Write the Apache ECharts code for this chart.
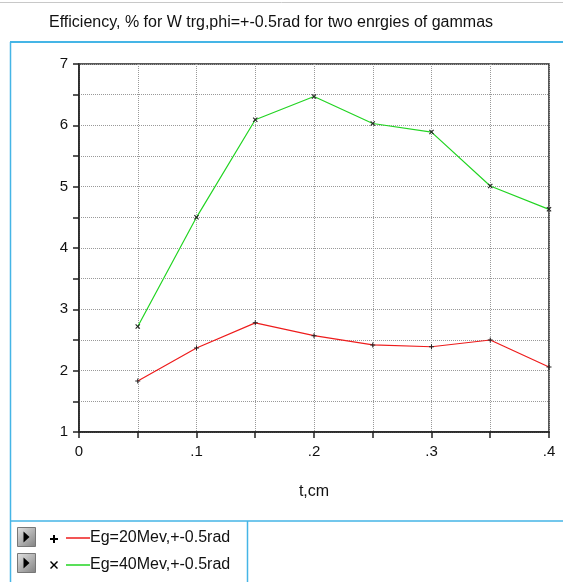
<!DOCTYPE html>
<html>
<head>
<meta charset="utf-8">
<script src="https://cdn.jsdelivr.net/npm/echarts@6/dist/echarts.min.js"></script>
<style>
  html, body { margin: 0; padding: 0; background: #fff; }
  #chart { width: 563px; height: 582px; }
</style>
</head>
<body>
<div id="chart"></div>
<script>
// data
var tValues = [0.05, 0.1, 0.15, 0.2, 0.25, 0.3, 0.35, 0.4];
var eff20 = [1.83, 2.37, 2.78, 2.57, 2.42, 2.39, 2.5, 2.06];
var eff40 = [2.72, 4.5, 6.09, 6.47, 6.03, 5.89, 5.01, 4.63];
var seriesNames = ['Eg=20Mev,+-0.5rad', 'Eg=40Mev,+-0.5rad'];
var seriesColors = ['#ee1c1c', '#22d422'];

function pairs(xs, ys) {
  var out = [];
  for (var i = 0; i < xs.length; i++) out.push([xs[i], ys[i]]);
  return out;
}

var plusPath = 'path://M4,0L6,0L6,4L10,4L10,6L6,6L6,10L4,10L4,6L0,6L0,4L4,4Z';
var crossPath = 'path://M1.5,0L5,3.5L8.5,0L10,1.5L6.5,5L10,8.5L8.5,10L5,6.5L1.5,10L0,8.5L3.5,5L0,1.5Z';
var frameBlue = '#45b5e6';
var font = 'Liberation Sans';

var chart = echarts.init(document.getElementById('chart'));

// small grey buttons in the legend box
function button(y) {
  return [
    { type: 'rect', shape: { x: 17.5, y: y + 0.5, width: 18, height: 19 },
      style: { fill: new echarts.graphic.LinearGradient(0, 0, 1, 1, [
        { offset: 0, color: '#e4e4e4' }, { offset: 1, color: '#808080' }]), stroke: '#777', lineWidth: 1 } },
    { type: 'polygon', shape: { points: [[23.5, y + 4.5], [29.5, y + 10], [23.5, y + 15.5]] }, style: { fill: '#000' } }
  ];
}

function plusMark(cx, cy) {
  return { type: 'polygon', shape: { points: [
    [cx - 1, cy - 4], [cx + 1, cy - 4], [cx + 1, cy - 1], [cx + 4, cy - 1], [cx + 4, cy + 1], [cx + 1, cy + 1],
    [cx + 1, cy + 4], [cx - 1, cy + 4], [cx - 1, cy + 1], [cx - 4, cy + 1], [cx - 4, cy - 1], [cx - 1, cy - 1]] },
    style: { fill: '#000' } };
}

function crossMark(cx, cy) {
  return { type: 'polygon', shape: { points: [
    [cx - 3, cy - 4], [cx, cy - 1], [cx + 3, cy - 4], [cx + 4, cy - 3], [cx + 1, cy], [cx + 4, cy + 3],
    [cx + 3, cy + 4], [cx, cy + 1], [cx - 3, cy + 4], [cx - 4, cy + 3], [cx - 1, cy], [cx - 4, cy - 3]] },
    style: { fill: '#000' } };
}

var graphics = [
  { type: 'line', shape: { x1: 0, y1: 2.5, x2: 563, y2: 2.5 }, style: { stroke: '#c8c8c8', lineWidth: 1 } },
  { type: 'line', shape: { x1: 10, y1: 42, x2: 563, y2: 42 }, style: { stroke: frameBlue, lineWidth: 2 } },
  { type: 'line', shape: { x1: 10.5, y1: 42, x2: 10.5, y2: 582 }, style: { stroke: frameBlue, lineWidth: 1.5 } },
  { type: 'line', shape: { x1: 10, y1: 521, x2: 563, y2: 521 }, style: { stroke: frameBlue, lineWidth: 1.5 } },
  { type: 'line', shape: { x1: 247.5, y1: 521, x2: 247.5, y2: 582 }, style: { stroke: frameBlue, lineWidth: 1.5 } },
  plusMark(54, 539),
  crossMark(54, 565)
].concat(button(527), button(553));

var option = {
  animation: false,
  title: {
    text: 'Efficiency, % for W trg,phi=+-0.5rad for two enrgies of gammas',
    left: 44, top: 10,
    textStyle: { fontFamily: font, fontSize: 16, fontWeight: 'normal', color: '#111' }
  },
  graphic: graphics,
  legend: {
    orient: 'vertical',
    left: 61, top: 525,
    itemWidth: 24, itemHeight: 1.5, itemGap: 11,
    icon: 'rect',
    textStyle: { fontFamily: font, fontSize: 16, color: '#111', padding: [0, 0, 0, -5] },
    data: [
      { name: seriesNames[0], itemStyle: { color: seriesColors[0] } },
      { name: seriesNames[1], itemStyle: { color: seriesColors[1] } }
    ]
  },
  grid: {
    left: 79, right: 14, top: 64, bottom: 150,
    show: true, borderColor: '#222', borderWidth: 1.5
  },
  xAxis: {
    type: 'value', min: 0, max: 0.4, interval: 0.1,
    name: 't,cm', nameLocation: 'middle', nameGap: 52,
    nameTextStyle: { fontFamily: font, fontSize: 16, color: '#111' },
    axisLine: { lineStyle: { color: '#222', width: 1.5 } },
    axisTick: { length: 6, lineStyle: { color: '#222', width: 1.5 } },
    minorTick: { show: true, splitNumber: 2, length: 6, lineStyle: { color: '#222', width: 1.5 } },
    axisLabel: {
      margin: 12, fontFamily: font, fontSize: 15, color: '#111',
      formatter: function (v) { var d = Math.round(v * 10); return d === 0 ? '0' : '.' + d; }
    },
    splitLine: { show: true, lineStyle: { color: '#999', type: 'dotted', width: 1 } },
    minorSplitLine: { show: true, lineStyle: { color: '#999', type: 'dotted', width: 1 } }
  },
  yAxis: {
    type: 'value', min: 1, max: 7, interval: 1,
    axisLine: { show: true, lineStyle: { color: '#222', width: 1.5 } },
    axisTick: { show: true, length: 6, lineStyle: { color: '#222', width: 1.5 } },
    minorTick: { show: true, splitNumber: 2, length: 6, lineStyle: { color: '#222', width: 1.5 } },
    axisLabel: { margin: 11, fontFamily: font, fontSize: 15, color: '#111' },
    splitLine: { show: true, lineStyle: { color: '#999', type: 'dotted', width: 1 } },
    minorSplitLine: { show: true, lineStyle: { color: '#999', type: 'dotted', width: 1 } }
  },
  series: [
    {
      name: seriesNames[0], type: 'line', data: pairs(tValues, eff20),
      symbol: plusPath, symbolSize: 5,
      itemStyle: { color: '#222' },
      lineStyle: { color: seriesColors[0], width: 1.2 }
    },
    {
      name: seriesNames[1], type: 'line', data: pairs(tValues, eff40),
      symbol: crossPath, symbolSize: 5,
      itemStyle: { color: '#222' },
      lineStyle: { color: seriesColors[1], width: 1.2 }
    }
  ]
};

chart.setOption(option);
</script>
</body>
</html>
